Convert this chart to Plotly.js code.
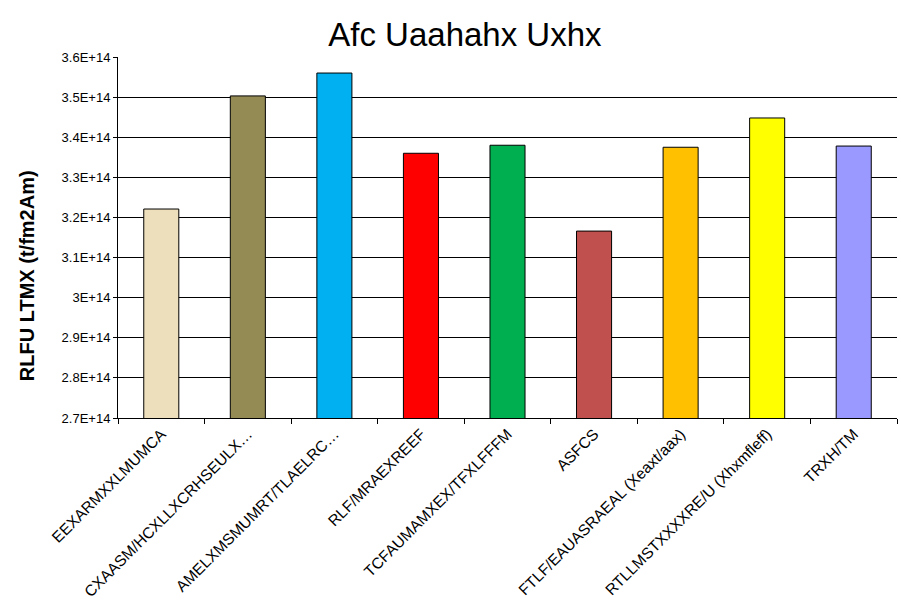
<!DOCTYPE html>
<html>
<head>
<meta charset="utf-8">
<script src="https://cdn.plot.ly/plotly-3.0.1.min.js"></script>
<style>html,body{margin:0;padding:0;background:#fff;}#chart{width:901px;height:613px;}</style>
</head>
<body>
<div id="chart"></div>
<script>
const categories = [
  "EEXARMXXLMUMCA",
  "CXAASM/HCXLLXCRHSEULX…",
  "AMELXMSMUMRT/TLAELRC…",
  "RLF/MRAEXREEF",
  "TCFAUMAMXEX/TFXLFFFM",
  "ASFCS",
  "FTLF/EAUASRAEAL (Xeaxt/aax)",
  "RTLLMSTXXXXRE/U (Xhxmfleff)",
  "TRXH/TM"
];
const values = [3.221e14, 3.503e14, 3.560e14, 3.360e14, 3.380e14, 3.166e14, 3.375e14, 3.448e14, 3.378e14];
const barColors = ["#EDDFBB", "#948A54", "#00B0F0", "#FF0000", "#00B050", "#C0504D", "#FFC000", "#FFFF00", "#9999FF"];
const yTickVals = [2.7e14, 2.8e14, 2.9e14, 3.0e14, 3.1e14, 3.2e14, 3.3e14, 3.4e14, 3.5e14, 3.6e14];
const yTickText = ["2.7E+14", "2.8E+14", "2.9E+14", "3E+14", "3.1E+14", "3.2E+14", "3.3E+14", "3.4E+14", "3.5E+14", "3.6E+14"];
const chartTitle = "Afc Uaahahx Uxhx";
const yTitle = "RLFU LTMX (t/fm2Am)";

const font = "Liberation Sans, Arial, sans-serif";

const trace = {
  type: "bar",
  x: categories,
  y: values,
  marker: { color: barColors, line: { color: "#000", width: 1 } },
  hoverinfo: "x+y"
};

const layout = {
  width: 901,
  height: 613,
  paper_bgcolor: "#fff",
  plot_bgcolor: "#fff",
  margin: { l: 118, r: 4, t: 57, b: 195 },
  font: { family: font, color: "#000" },
  showlegend: false,
  bargap: 0.595,
  title: {
    text: chartTitle,
    font: { family: font, size: 33, color: "#000" },
    xref: "container", x: 0.516, xanchor: "center",
    yref: "container", y: 0.944, yanchor: "middle"
  },
  xaxis: {
    type: "category",
    tickangle: -45,
    tickfont: { family: font, size: 15.5, color: "#000" },
    ticks: "outside", tickson: "boundaries", ticklen: 5, tickcolor: "#000", tickwidth: 1,
    showline: true, linecolor: "#000", linewidth: 1,
    showgrid: false, zeroline: false, automargin: false
  },
  yaxis: {
    range: [2.7e14, 3.6e14],
    tickvals: yTickVals,
    ticktext: yTickText,
    tickfont: { family: font, size: 13, color: "#000" },
    ticks: "outside", ticklen: 4, tickcolor: "#000", tickwidth: 1,
    showline: true, linecolor: "#000", linewidth: 1,
    showgrid: true, gridcolor: "#000", gridwidth: 1,
    zeroline: false, automargin: false
  },
  annotations: [{
    text: "<b>" + yTitle + "</b>",
    textangle: -90,
    xref: "paper", x: 0, xanchor: "center", xshift: -91,
    yref: "paper", y: 0.393, yanchor: "middle",
    showarrow: false,
    font: { family: font, size: 20, color: "#000" }
  }]
};

Plotly.newPlot("chart", [trace], layout, { displayModeBar: false, staticPlot: true });
</script>
</body>
</html>
